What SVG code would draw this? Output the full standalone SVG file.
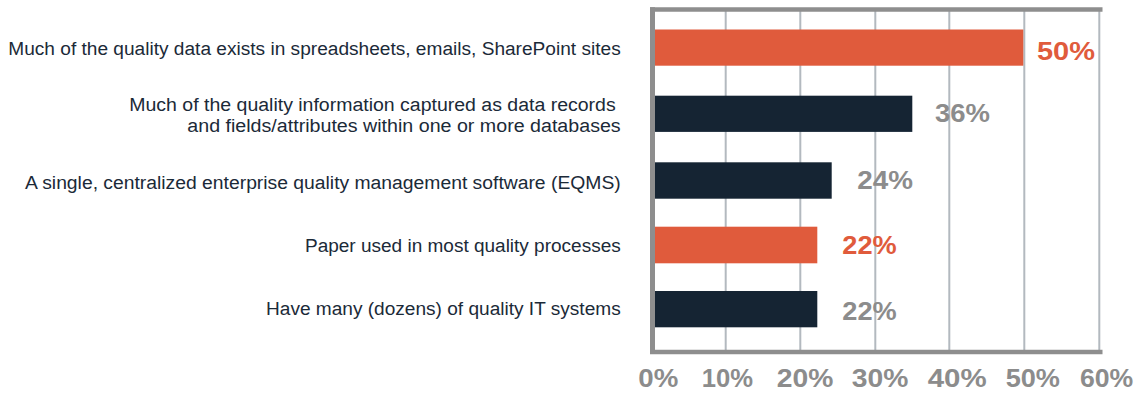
<svg xmlns="http://www.w3.org/2000/svg" width="1142" height="393" viewBox="0 0 1142 393">
  <style>
    .grid { stroke: #b3b9bf; stroke-width: 2; }
    .frame { stroke: #8e8e8e; fill: none; }
    .bar-o { fill: #e05b3c; }
    .bar-n { fill: #152433; }
    .cat { font-family: "Liberation Sans", Arial, sans-serif; font-size: 18px; fill: #1b2a38; text-anchor: start; }
    .val { font-family: "Liberation Sans", Arial, sans-serif; font-size: 26px; font-weight: bold; }
    .val-o { fill: #e05b3c; }
    .val-g { fill: #8c8c8c; }
    .tick { font-family: "Liberation Sans", Arial, sans-serif; font-size: 25px; font-weight: bold; fill: #8c8c8c; }
  </style>
  <rect width="1142" height="393" fill="#ffffff"/>
  <g id="grid">
    <line class="grid" x1="725.7" y1="11" x2="725.7" y2="351"/>
    <line class="grid" x1="800.3" y1="11" x2="800.3" y2="351"/>
    <line class="grid" x1="875.3" y1="11" x2="875.3" y2="351"/>
    <line class="grid" x1="949.3" y1="11" x2="949.3" y2="351"/>
    <line class="grid" x1="1024.3" y1="11" x2="1024.3" y2="351"/>
    <line class="grid" x1="1099.3" y1="11" x2="1099.3" y2="351"/>
  </g>
  <g id="bar-1">
    <rect class="bar-o" x="655" y="29.5" width="368.3" height="36.2"/>
    <text class="cat" x="8.3" y="55" textLength="612.4" lengthAdjust="spacingAndGlyphs">Much of the quality data exists in spreadsheets, emails, SharePoint sites</text>
    <text class="val val-o" x="1037" y="60" textLength="58" lengthAdjust="spacingAndGlyphs">50%</text>
  </g>
  <g id="bar-2">
    <rect class="bar-n" x="655" y="95.7" width="257.3" height="36.2"/>
    <text class="cat" x="129.3" y="110.7" textLength="486.4" lengthAdjust="spacingAndGlyphs">Much of the quality information captured as data records</text>
    <text class="cat" x="187.3" y="132" textLength="433.4" lengthAdjust="spacingAndGlyphs">and fields/attributes within one or more databases</text>
    <text class="val val-g" x="935" y="122.3" textLength="55" lengthAdjust="spacingAndGlyphs">36%</text>
  </g>
  <g id="bar-3">
    <rect class="bar-n" x="655" y="162.3" width="176.7" height="36.4"/>
    <text class="cat" x="25" y="188.5" textLength="595.7" lengthAdjust="spacingAndGlyphs">A single, centralized enterprise quality management software (EQMS)</text>
    <text class="val val-g" x="857.3" y="189" textLength="55.7" lengthAdjust="spacingAndGlyphs">24%</text>
  </g>
  <g id="bar-4">
    <rect class="bar-o" x="655" y="226.7" width="162.3" height="36.6"/>
    <text class="cat" x="305" y="251.7" textLength="315.7" lengthAdjust="spacingAndGlyphs">Paper used in most quality processes</text>
    <text class="val val-o" x="842.3" y="254.3" textLength="54.4" lengthAdjust="spacingAndGlyphs">22%</text>
  </g>
  <g id="bar-5">
    <rect class="bar-n" x="655" y="291" width="162.3" height="36.3"/>
    <text class="cat" x="266" y="315" textLength="354.7" lengthAdjust="spacingAndGlyphs">Have many (dozens) of quality IT systems</text>
    <text class="val val-g" x="842.3" y="320" textLength="54.4" lengthAdjust="spacingAndGlyphs">22%</text>
  </g>
  <g id="axes">
    <line class="frame" x1="650" y1="9.5" x2="1102.5" y2="9.5" stroke-width="4.4"/>
    <line class="frame" x1="652.5" y1="7.3" x2="652.5" y2="354" stroke-width="5"/>
    <line class="frame" x1="650" y1="352" x2="1102.5" y2="352" stroke-width="4.4"/>
  </g>
  <g id="ticks">
    <text class="tick" x="638.3" y="387.3" textLength="40" lengthAdjust="spacingAndGlyphs">0%</text>
    <text class="tick" x="701.7" y="387.3" textLength="51.3" lengthAdjust="spacingAndGlyphs">10%</text>
    <text class="tick" x="776.7" y="387.3" textLength="56.6" lengthAdjust="spacingAndGlyphs">20%</text>
    <text class="tick" x="851.7" y="387.3" textLength="56.6" lengthAdjust="spacingAndGlyphs">30%</text>
    <text class="tick" x="927.7" y="387.3" textLength="59" lengthAdjust="spacingAndGlyphs">40%</text>
    <text class="tick" x="1005.7" y="387.3" textLength="54.3" lengthAdjust="spacingAndGlyphs">50%</text>
    <text class="tick" x="1080" y="387.3" textLength="53.3" lengthAdjust="spacingAndGlyphs">60%</text>
  </g>
</svg>
